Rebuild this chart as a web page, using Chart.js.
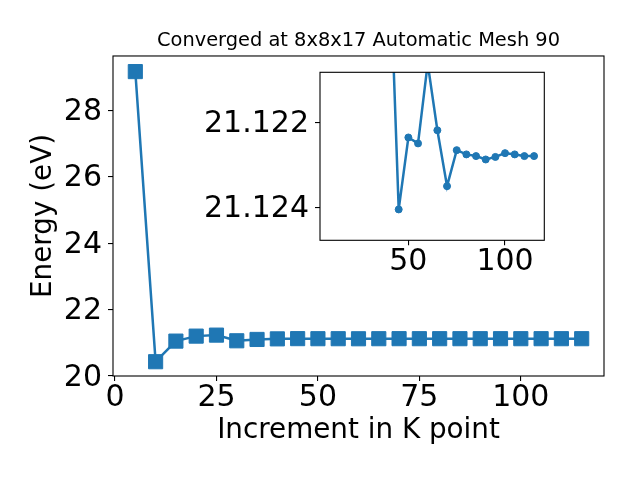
<!DOCTYPE html>
<html>
<head>
<meta charset="utf-8">
<script src="https://cdn.jsdelivr.net/npm/chart.js@4/dist/chart.umd.min.js"></script>
<style>
  body { margin: 0; background: #fff; }
  #wrap { position: relative; width: 640px; height: 480px; }
  canvas { position: absolute; left: 0; top: 0; }
</style>
</head>
<body>
<div id="wrap">
  <canvas id="main" width="640" height="480"></canvas>
  <canvas id="inset" width="640" height="480"></canvas>
</div>
<script>
// k point increments and total energy
const kPoints = [5, 10, 15, 20, 25, 30, 35, 40, 45, 50, 55, 60, 65, 70, 75, 80, 85, 90, 95, 100, 105, 110, 115];
const energy = [29.16, 20.43, 21.05, 21.20, 21.23, 21.06, 21.10, 21.1176, 21.12405, 21.12235, 21.12249, 21.1206,
                21.12218, 21.12350, 21.12265, 21.12275, 21.12279, 21.12287, 21.12281, 21.12272, 21.12275, 21.12279, 21.12279];
const mainXTicks = [0, 25, 50, 75, 100];
const mainYTicks = [20, 22, 24, 26, 28];
const insetXTicks = [50, 100];
const insetYTicks = [21.122, 21.124];
const insetFrom = 40;

const blue = '#1f77b4';
const tickFont = { size: 30 };
const labelFont = { size: 27.8 };
Chart.defaults.font.family = 'DejaVu Sans';
Chart.defaults.color = '#000';

const frame = {
    id: 'frame',
    beforeDraw(chart) {
        const a = chart.chartArea, c = chart.ctx;
        c.save();
        c.fillStyle = '#fff';
        c.fillRect(a.left, a.top, a.right - a.left, a.bottom - a.top);
        c.restore();
    },
    afterDraw(chart) {
        const a = chart.chartArea, c = chart.ctx;
        c.save();
        c.strokeStyle = '#000';
        c.lineWidth = 1.1;
        c.strokeRect(a.left, a.top, a.right - a.left, a.bottom - a.top);
        c.restore();
    }
};

function fixedTicks(list) {
    return function(scale) { scale.ticks = list.map(v => ({ value: v })); };
}

function axisGrid() {
    return { display: true, drawOnChartArea: false, drawTicks: true, tickLength: 5, color: '#000', lineWidth: 1.1 };
}

const points = kPoints.map((k, i) => ({ x: k, y: energy[i] }));
const insetPoints = points.filter(p => p.x >= insetFrom);

new Chart(document.getElementById('main'), {
    type: 'line',
    data: {
        datasets: [{
            data: points,
            borderColor: blue,
            backgroundColor: blue,
            borderWidth: 2.5,
            pointStyle: 'rect',
            pointRadius: 10,
            pointBorderWidth: 1,
            tension: 0
        }]
    },
    options: {
        responsive: false,
        animation: false,
        layout: { padding: { left: 0, right: 36, top: 0, bottom: 0 } },
        plugins: {
            legend: { display: false },
            tooltip: { enabled: false },
            title: {
                display: true,
                text: 'Converged at 8x8x17 Automatic Mesh 90',
                fullSize: false,
                font: { size: 19.4, weight: 'normal' },
                padding: { top: 29.3, bottom: 3.4 }
            }
        },
        scales: {
            x: {
                type: 'linear',
                min: -0.5,
                max: 120.5,
                afterBuildTicks: fixedTicks(mainXTicks),
                afterFit(scale) { scale.height = 104; },
                grid: axisGrid(),
                border: { display: false },
                ticks: { font: tickFont, padding: -1, maxRotation: 0 },
                title: { display: true, text: 'Increment in K point', font: labelFont, padding: { top: 0, bottom: 32.3 } }
            },
            y: {
                min: 20.0,
                max: 29.63,
                afterBuildTicks: fixedTicks(mainYTicks),
                afterFit(scale) { scale.width = 113; },
                grid: axisGrid(),
                border: { display: false },
                ticks: { font: tickFont, padding: 6, labelOffset: 2 },
                title: { display: true, text: 'Energy (eV)', font: labelFont, padding: { top: 27, bottom: 0 } }
            }
        }
    },
    plugins: [frame]
});

new Chart(document.getElementById('inset'), {
    type: 'line',
    data: {
        datasets: [{
            data: insetPoints,
            borderColor: blue,
            backgroundColor: blue,
            borderWidth: 2.5,
            pointStyle: 'circle',
            pointRadius: 3.5,
            pointBorderWidth: 1,
            tension: 0,
            clip: 0
        }]
    },
    options: {
        responsive: false,
        animation: false,
        layout: { padding: { left: 0, right: 95.7, top: 72.3, bottom: 0 } },
        plugins: { legend: { display: false }, tooltip: { enabled: false } },
        scales: {
            x: {
                type: 'linear',
                min: 4.3,
                max: 120.3,
                afterBuildTicks: fixedTicks(insetXTicks),
                afterFit(scale) { scale.height = 239.7; },
                grid: axisGrid(),
                border: { display: false },
                ticks: { font: tickFont, padding: -1, maxRotation: 0 }
            },
            y: {
                reverse: true,
                min: 21.12081,
                max: 21.12478,
                afterBuildTicks: fixedTicks(insetYTicks),
                afterFit(scale) { scale.width = 320; },
                grid: axisGrid(),
                border: { display: false },
                ticks: { font: tickFont, padding: 6, labelOffset: 2, callback: v => v.toFixed(3) }
            }
        }
    },
    plugins: [frame]
});
</script>
</body>
</html>
